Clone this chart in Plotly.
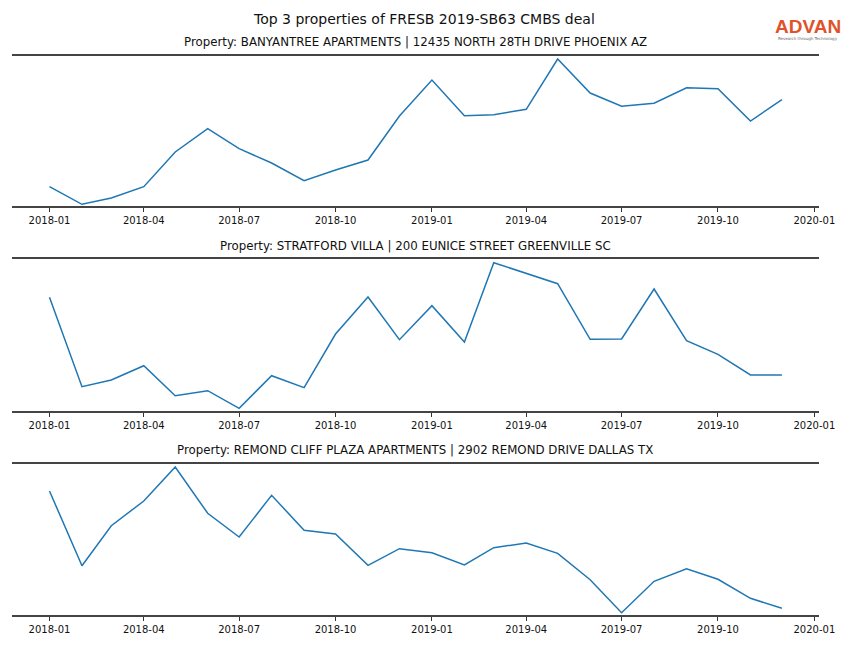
import plotly.graph_objects as go
import pandas as pd

months = pd.date_range("2018-01-01", "2019-12-01", freq="MS").strftime("%Y-%m-%d").tolist()

titles = [
    "Property: BANYANTREE APARTMENTS | 12435 NORTH 28TH DRIVE PHOENIX AZ",
    "Property: STRATFORD VILLA | 200 EUNICE STREET GREENVILLE SC",
    "Property: REMOND CLIFF PLAZA APARTMENTS | 2902 REMOND DRIVE DALLAS TX",
]

banyantree = [19.3, 1.7, 8.0, 19.3, 54.0, 77.3, 57.3, 43.0, 25.3, 36.0, 46.0, 90.0,
              126.0, 90.3, 91.3, 96.7, 147.0, 113.0, 99.7, 102.7, 118.3, 117.3, 85.0, 106.3]
stratford = [113.7, 24.3, 31.0, 45.3, 15.3, 20.3, 2.7, 35.3, 23.3, 77.0, 114.0, 71.3,
             105.3, 69.0, 148.3, 137.7, 127.3, 71.7, 72.0, 122.0, 70.3, 56.7, 36.0, 36.0]
remond = [124.0, 49.3, 89.3, 114.0, 148.0, 101.7, 78.0, 119.7, 84.7, 81.0, 49.7, 66.3,
          62.3, 50.0, 67.3, 72.0, 61.7, 35.3, 2.3, 33.7, 46.3, 35.7, 16.7, 6.7]

series = [banyantree, stratford, remond]
yranges = [[0, 150], [0, 152], [0, 151]]
ydomains = [[1 - 206 / 648, 1 - 56 / 648], [1 - 411 / 648, 1 - 259 / 648], [1 - 615 / 648, 1 - 464 / 648]]
title_y = [42, 246, 450]

tickvals = pd.date_range("2018-01-01", "2020-01-01", freq="3MS").strftime("%Y-%m-%d").tolist()
ticktext = [t[:7] for t in tickvals]

W = 864.0
FONT = "DejaVu Sans"
fig = go.Figure()
annotations = []
for i, vals in enumerate(series):
    n = "" if i == 0 else str(i + 1)
    fig.add_trace(go.Scatter(x=months, y=vals, mode="lines",
                             line=dict(color="#1f77b4", width=1.5),
                             xaxis="x" + n, yaxis="y" + n, showlegend=False))
    fig.update_layout(**{
        "xaxis" + n: dict(domain=[12 / W, 835 / W], anchor="y" + n,
                          range=["2017-11-26", "2020-01-05"], type="date",
                          tickvals=tickvals, ticktext=ticktext,
                          ticks="outside", ticklen=4, tickwidth=1, tickcolor="#333",
                          showline=True, mirror=True, linecolor="#444", linewidth=2,
                          showgrid=False, zeroline=False,
                          tickfont=dict(family=FONT, size=10, color="#111")),
        "yaxis" + n: dict(domain=ydomains[i], anchor="x" + n, range=yranges[i],
                          showticklabels=False, showgrid=False, zeroline=False,
                          showline=False, ticks=""),
    })
    annotations.append(dict(text=titles[i], x=423.5 / W, y=1 - title_y[i] / 648,
                            xref="paper", yref="paper", showarrow=False,
                            xanchor="center", yanchor="middle",
                            font=dict(family=FONT, size=11.8, color="#111")))

annotations.append(dict(text="Top 3 properties of FRESB 2019-SB63 CMBS deal",
                        x=432 / W, y=1 - 19 / 648, xref="paper", yref="paper",
                        showarrow=False, xanchor="center", yanchor="middle",
                        font=dict(family=FONT, size=14, color="#111")))
annotations.append(dict(text="<b>ADVAN</b>", x=824 / W, y=1 - 27 / 648,
                        xref="paper", yref="paper", showarrow=False,
                        xanchor="center", yanchor="middle",
                        font=dict(family="Liberation Sans", size=19, color="#e0522a")))
annotations.append(dict(text="Research through Technology", x=824 / W, y=1 - 38 / 648,
                        xref="paper", yref="paper", showarrow=False,
                        xanchor="center", yanchor="middle",
                        font=dict(family=FONT, size=4, color="#666")))

fig.update_layout(width=864, height=648, margin=dict(l=0, r=0, t=0, b=0),
                  plot_bgcolor="white", paper_bgcolor="white",
                  annotations=annotations, showlegend=False)
fig.write_html("out.html", config={"displayModeBar": False},
               post_script="document.body.style.margin='0';document.body.style.overflow='hidden';")
